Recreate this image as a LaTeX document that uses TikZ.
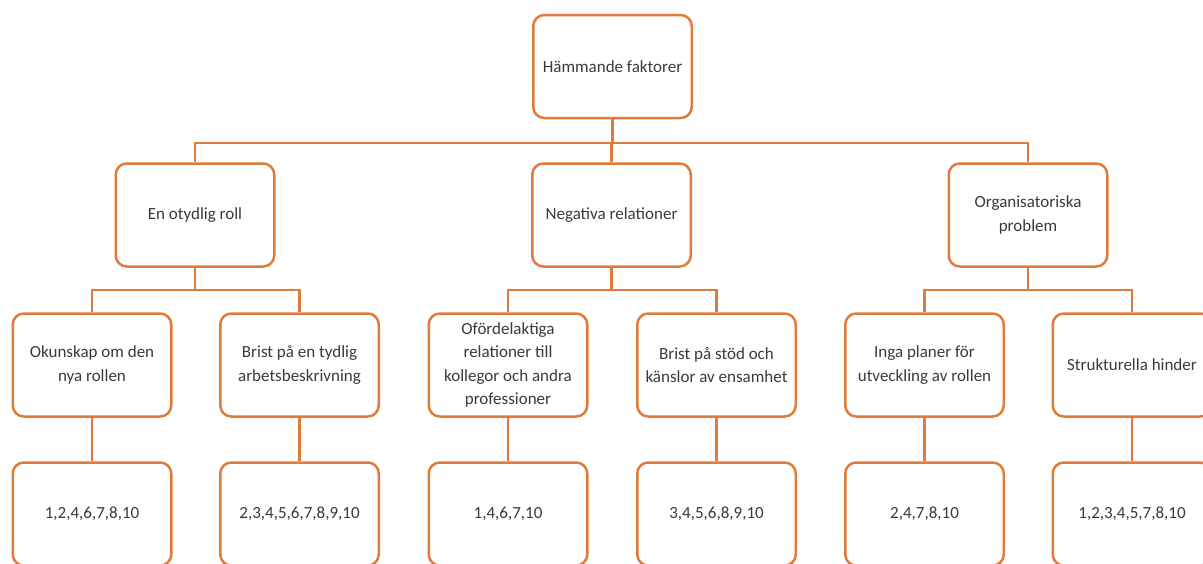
\documentclass[tikz,border=0pt]{standalone}
\usepackage{fontspec}
\setmainfont{Carlito}
\definecolor{accent}{HTML}{E07B39}
\definecolor{ink}{HTML}{3A3A3A}
\begin{document}
\begin{tikzpicture}[x=1pt,y=-1pt,
  box/.style={draw=accent, line width=2.5pt, rounded corners=11pt, fill=white,
    minimum width=158.5pt, minimum height=103pt, align=center, inner sep=0pt,
    font=\fontsize{17}{23.5}\selectfont, text=ink},
  link/.style={draw=accent, line width=2.5pt}]
\useasboundingbox (0,0) rectangle (1203,563);
\begin{scope}
\clip (0,0) rectangle (1203,563);
% top level
\node[box] (root) at (612.5,66.5) {Hämmande faktorer};
% second level
\node[box] (roll) at (195,215) {En otydlig roll};
\node[box] (rel)  at (611.5,215) {Negativa relationer};
\node[box] (org)  at (1028,215) {Organisatoriska\\problem};
% third level
\node[box] (okun)  at (92,365)    {Okunskap om den\\nya rollen};
\node[box] (brist) at (299.5,365) {Brist på en tydlig\\arbetsbeskrivning};
\node[box] (ofor)  at (508,365)   {Ofördelaktiga\\relationer till\\kollegor och andra\\professioner};
\node[box] (stod)  at (716.5,365) {Brist på stöd och\\känslor av ensamhet};
\node[box] (plan)  at (924.5,365) {Inga planer för\\utveckling av rollen};
\node[box] (strk)  at (1132,365)  {Strukturella hinder};
% fourth level
\node[box] (r1) at (92,514)    {1,2,4,6,7,8,10};
\node[box] (r2) at (299.5,514) {2,3,4,5,6,7,8,9,10};
\node[box] (r3) at (508,514)   {1,4,6,7,10};
\node[box] (r4) at (716.5,514) {3,4,5,6,8,9,10};
\node[box] (r5) at (924.5,514) {2,4,7,8,10};
\node[box] (r6) at (1132,514)  {1,2,3,4,5,7,8,10};
% connectors
\foreach \c in {roll,rel,org}
  \draw[link] (root.south) -- ++(0,23.5) -| (\c.north);
\foreach \c in {okun,brist}
  \draw[link] (roll.south) -- ++(0,22) -| (\c.north);
\foreach \c in {ofor,stod}
  \draw[link] (rel.south) -- ++(0,22) -| (\c.north);
\foreach \c in {plan,strk}
  \draw[link] (org.south) -- ++(0,22) -| (\c.north);
\draw[link] (okun) -- (r1);
\draw[link] (brist) -- (r2);
\draw[link] (ofor) -- (r3);
\draw[link] (stod) -- (r4);
\draw[link] (plan) -- (r5);
\draw[link] (strk) -- (r6);
\end{scope}
\end{tikzpicture}
\end{document}
